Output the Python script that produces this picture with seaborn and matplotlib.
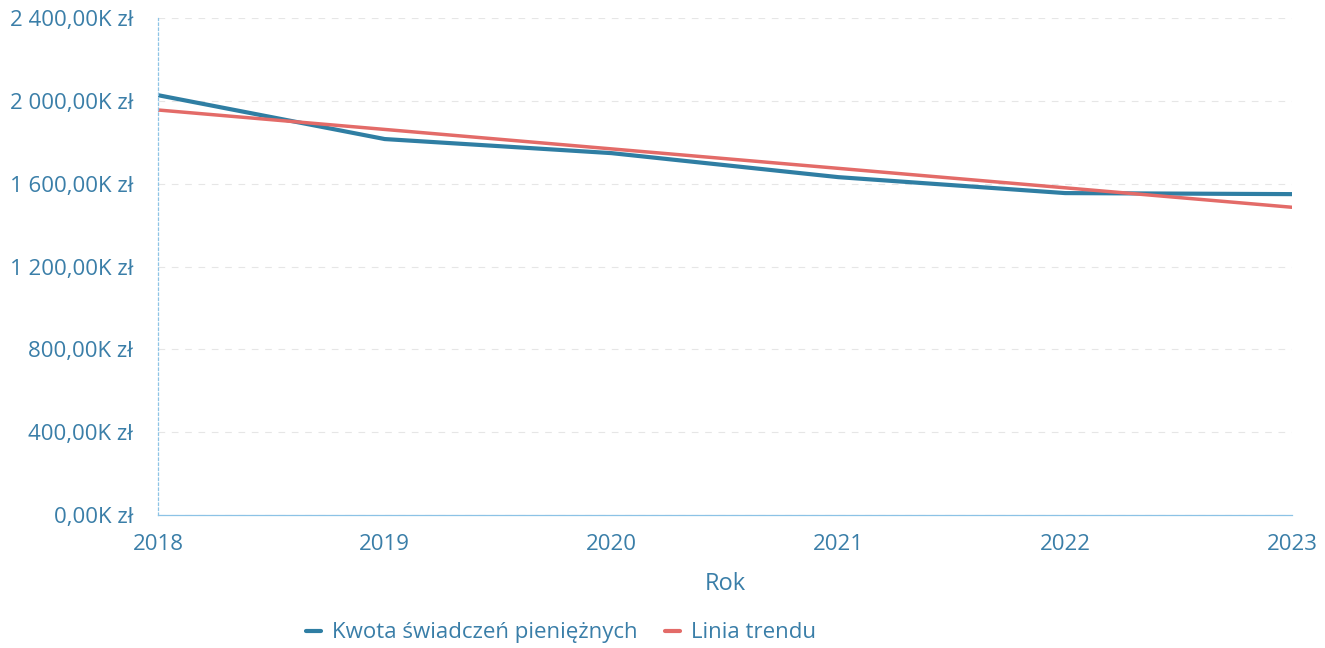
import matplotlib.pyplot as plt
import matplotlib.ticker as mticker
import seaborn as sns
import pandas as pd
import numpy as np

# values, in thousands of zł
years = [2018, 2019, 2020, 2021, 2022, 2023]
amounts = [2028, 1816, 1748, 1632, 1555, 1550]
y_ticks = [0, 400, 800, 1200, 1600, 2000, 2400]

series_label = 'Kwota świadczeń pieniężnych'
trend_label = 'Linia trendu'

blue = '#2f7ea3'
red = '#e36b68'
text_color = '#3a7ea8'
axis_color = '#8cc3e6'

df = pd.DataFrame({'Rok': years, 'Kwota': amounts})
coef = np.polyfit(df['Rok'] - years[0], df['Kwota'], 1)
df['Trend'] = np.polyval(coef, df['Rok'] - years[0])

sns.set_style('white')
plt.rcParams['font.family'] = ['Open Sans', 'DejaVu Sans']

fig = plt.figure(figsize=(13.25, 6.48), dpi=100)
ax = fig.add_axes([0.1192, 0.2052, 0.8558, 0.7668])

sns.lineplot(data=df, x='Rok', y='Kwota', ax=ax, color=blue, linewidth=3.0,
             label=series_label)
sns.lineplot(data=df, x='Rok', y='Trend', ax=ax, color=red, linewidth=2.5,
             label=trend_label)

ax.set_xlim(years[0], years[-1])
ax.set_ylim(y_ticks[0], y_ticks[-1])
ax.set_xticks(years)
ax.set_yticks(y_ticks)


def fmt(v, pos):
    s = f'{v:,.2f}'.replace(',', ' ').replace('.', ',')
    return f'{s}K zł'


ax.yaxis.set_major_formatter(mticker.FuncFormatter(fmt))
ax.tick_params(axis='both', colors=text_color, labelsize=16, length=0)
ax.tick_params(axis='y', pad=18)
ax.tick_params(axis='x', pad=14)

ax.grid(axis='y', color='#e6e6e6', linestyle=(0, (6, 6)), linewidth=0.8)
for side in ['top', 'right']:
    ax.spines[side].set_visible(False)
ax.spines['left'].set_color(axis_color)
ax.spines['left'].set_linestyle((0, (2, 2)))
ax.spines['left'].set_linewidth(0.9)
ax.spines['bottom'].set_color(axis_color)
ax.spines['bottom'].set_linewidth(0.9)

ax.set_ylabel('')
ax.set_xlabel('Rok', color=text_color, fontsize=17, labelpad=12)

leg = ax.legend(loc='center', bbox_to_anchor=(0.3555, -0.237), ncol=2,
                frameon=False, fontsize=16, handlelength=0.7, handletextpad=0.5,
                columnspacing=1.2)
for t in leg.get_texts():
    t.set_color(text_color)
for h in leg.get_lines():
    h.set_linewidth(3.0)

fig.savefig('out.png', dpi=100)
plt.close(fig)
